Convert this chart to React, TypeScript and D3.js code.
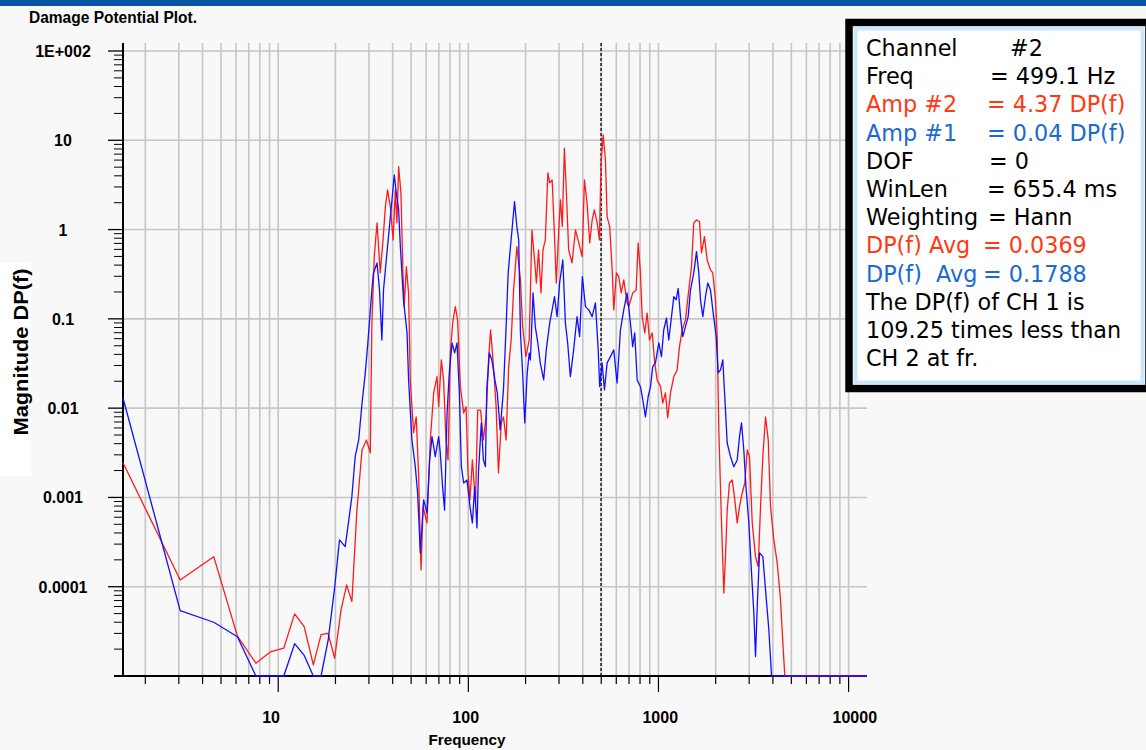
import React from 'react';
import * as d3 from 'd3';

// ---------- data ----------
const X_DOMAIN: [number, number] = [1.526, 12500];
const Y_DOMAIN: [number, number] = [1e-5, 100];

const xTickValues = [10, 100, 1000, 10000];
const xTickLabels = ['10', '100', '1000', '10000'];
const yTickValues = [100, 10, 1, 0.1, 0.01, 0.001, 0.0001];
const yTickLabels = ['1E+002', '10', '1', '0.1', '0.01', '0.001', '0.0001'];

const cursorFreq = 499.1;

// Channel 1 (blue)
const ch1Freq = [
  1.526, 3.05, 4.58, 6.1, 7.63, 9.16, 10.7, 12.2, 13.7, 15.3, 16.8, 18.3, 19.8, 21.0, 22.5, 23.4, 24.4, 25.4, 26.5, 27.6,
  28.7, 29.5, 30.2, 31.1, 31.7, 33.1, 34.1, 35.1, 35.8, 37.3, 38.9, 40.8, 41.8, 43.0, 43.9, 45.6, 47.6, 48.5, 50.5, 52.6,
  54.1, 55.9, 58.2, 60.6, 62.6, 64.4, 67.0, 69.8, 71.2, 73.2, 75.0, 77.3, 79.4, 82.1, 84.7, 87.2, 89.7, 91.9, 94.5, 98.4,
  102, 105, 108, 111, 113, 117, 120, 123, 125, 129, 133, 138, 142, 147, 153, 158, 162, 166, 171, 175,
  180, 184, 188, 193, 198, 204, 209, 212, 219, 225, 232, 239, 249, 257, 268, 276, 284, 293, 302, 314,
  324, 333, 344, 358, 373, 385, 398, 413, 430, 448, 466, 482, 491, 505, 520, 537, 559, 582, 606, 631,
  657, 684, 712, 732, 750, 773, 804, 827, 854, 883, 908, 933, 964, 1004, 1037, 1066, 1102, 1133, 1171, 1204,
  1239, 1270, 1306, 1343, 1387, 1433, 1474, 1534, 1585, 1630, 1664, 1711, 1768, 1818, 1878, 1931, 2012, 2062, 2120, 2180,
  2252, 2299, 2393, 2491, 2596, 2669, 2734, 2811, 2894, 2988, 3087, 3174, 3240, 3308, 3401, 3540, 3658, 3807, 3933, 12500,
];
const ch1Val = [
  0.013, 5.4e-5, 4.0e-5, 2.75e-5, 1e-5, 1e-5, 1e-5, 2.3e-5, 1.7e-5, 1e-5, 1e-5, 2.5e-5, 9.7e-5, 3.34e-4, 2.81e-4, 5.18e-4, 1.02e-3, 2.86e-3, 4.4e-3, 0.0114,
  0.0248, 0.0489, 0.0931, 0.211, 0.327, 0.423, 0.211, 0.058, 0.211, 0.547, 1.39, 4.09, 2.57, 1.66, 0.643, 0.163, 0.0695, 0.0207, 4.4e-3, 2.21e-3,
  1.12e-3, 2.39e-4, 9.4e-4, 6.7e-4, 2.63e-3, 4.8e-3, 2.86e-3, 4.8e-3, 3.15e-3, 1.32e-3, 7.2e-4, 8.8e-3, 0.0248, 0.0537, 0.0415, 0.0537, 0.0148, 2.21e-3, 1.45e-3, 1.57e-3,
  7.9e-4, 5.18e-4, 1.32e-3, 4.55e-4, 1.88e-3, 6.83e-3, 2.63e-3, 2.21e-3, 0.016, 0.0415, 0.0347, 0.0207, 0.0148, 5.7e-3, 0.016, 0.0818, 0.327, 0.591, 1.19, 2.05,
  1.08, 0.765, 0.0695, 0.0248, 6.83e-3, 0.0248, 0.0415, 0.0347, 0.195, 0.0818, 0.0537, 0.0321, 0.0207, 0.0449, 0.09, 0.126, 0.177, 0.106, 0.252, 0.457,
  0.09, 0.0537, 0.0225, 0.0449, 0.106, 0.0632, 0.297, 0.137, 0.126, 0.106, 0.151, 0.0449, 0.0174, 0.0321, 0.016, 0.0321, 0.0378, 0.0449, 0.0191, 0.0751,
  0.126, 0.195, 0.09, 0.0489, 0.0695, 0.0207, 0.0174, 0.0124, 8.0e-3, 0.0135, 0.0174, 0.0292, 0.0321, 0.0537, 0.0378, 0.0751, 0.102, 0.058, 0.106, 0.177,
  0.163, 0.22, 0.106, 0.0632, 0.0818, 0.106, 0.211, 0.327, 0.566, 0.327, 0.163, 0.106, 0.177, 0.252, 0.211, 0.126, 0.0632, 0.0248, 0.0268, 0.0347,
  9.5e-3, 4.07e-3, 2.86e-3, 2.21e-3, 2.63e-3, 4.8e-3, 6.83e-3, 3.4e-3, 1.21e-3, 5.18e-4, 1.43e-4, 5.1e-5, 1.65e-5, 6.0e-5, 2.39e-4, 2.17e-4, 9.2e-5, 3.3e-5, 1e-5, 1e-5,
];

// Channel 2 (red)
const ch2Freq = [
  1.526, 3.05, 4.58, 6.1, 7.63, 9.16, 10.7, 12.2, 13.7, 15.3, 16.8, 18.3, 19.8, 21.4, 22.9, 24.4, 25.9, 27.6, 29.1, 30.5,
  30.7, 31.1, 32.0, 33.1, 34.4, 35.6, 36.6, 37.6, 38.9, 40.2, 41.3, 42.1, 43.0, 44.2, 45.3, 46.0, 47.2, 48.5, 49.5, 51.5,
  53.2, 54.7, 56.4, 57.8, 60.6, 63.1, 65.7, 68.4, 69.8, 72.1, 74.1, 76.3, 78.2, 80.4, 82.7, 85.4, 87.8, 90.8, 94.5, 97.3,
  99.6, 102, 105, 109, 112, 116, 120, 124, 128, 131, 136, 140, 144, 149, 153, 158, 163, 168, 173, 180,
  188, 193, 201, 209, 216, 223, 228, 234, 241, 247, 254, 262, 268, 276, 284, 290, 299, 305, 312, 320,
  328, 337, 351, 366, 381, 397, 408, 421, 435, 448, 460, 476, 489, 499, 512, 526, 537, 554, 571, 582,
  601, 618, 637, 657, 684, 698, 732, 763, 782, 804, 821, 847, 872, 897, 927, 956, 984, 1025, 1053, 1088,
  1119, 1157, 1204, 1254, 1290, 1333, 1387, 1444, 1492, 1534, 1585, 1644, 1684, 1746, 1804, 1878, 1931, 1995, 2037, 2077,
  2146, 2207, 2252, 2299, 2364, 2443, 2521, 2596, 2669, 2757, 2846, 2930, 3013, 3113, 3240, 3347, 3443, 3540, 3658, 3780,
  3886, 4044, 4214, 4387, 4510, 4620, 12500,
];
const ch2Val = [
  2.45e-3, 1.19e-4, 2.17e-4, 2.8e-5, 1.39e-5, 1.88e-5, 2.05e-5, 4.96e-5, 3.57e-5, 1.33e-5, 2.9e-5, 3.0e-5, 1.58e-5, 5.5e-5, 1.05e-4, 6.8e-5, 6.9e-4, 3.4e-3, 4.4e-3, 3.15e-3,
  0.0104, 0.09, 0.497, 1.19, 0.327, 0.765, 1.8, 2.78, 1.8, 0.765, 2.78, 1.19, 5.06, 2.57, 0.327, 0.137, 0.384, 0.195, 0.0207, 5.3e-3,
  8.0e-3, 1.88e-3, 1.54e-4, 7.9e-4, 5.18e-4, 4.4e-3, 0.0148, 0.0225, 0.0104, 0.0347, 0.0207, 4.4e-3, 2.63e-3, 0.0415, 0.09, 0.137, 0.0973, 0.0174, 8.8e-3, 0.0104,
  1.88e-3, 9.4e-4, 2.63e-3, 8.6e-4, 9.5e-3, 9.5e-3, 4.4e-3, 8.0e-3, 0.0378, 0.0751, 0.0268, 0.0104, 1.88e-3, 6.83e-3, 8.0e-3, 4.4e-3, 0.0292, 0.058, 0.211, 0.643,
  0.273, 0.0818, 0.0378, 0.058, 0.99, 0.457, 0.252, 0.591, 0.195, 0.591, 0.765, 4.3, 3.33, 3.59, 0.833, 0.252, 0.99, 2.15, 1.08, 8.14,
  2.57, 0.591, 0.423, 0.99, 0.708, 0.497, 3.59, 1.99, 0.708, 1.28, 1.66, 1.19, 0.765, 5.57, 11.5, 6.02, 1.39, 1.08, 0.353, 0.126,
  0.327, 0.297, 0.195, 0.273, 0.151, 0.137, 0.195, 0.211, 0.708, 0.327, 0.106, 0.0695, 0.116, 0.058, 0.0695, 0.0321, 0.0207, 0.0174, 0.0114, 0.0148,
  7.8e-3, 0.0148, 0.0225, 0.0268, 0.0489, 0.0751, 0.0973, 0.211, 0.384, 1.19, 1.28, 1.23, 0.547, 0.833, 0.457, 0.353, 0.327, 0.163, 0.0632, 5.7e-3,
  5.18e-4, 8.5e-5, 2.17e-4, 7.2e-4, 1.45e-3, 1.57e-3, 9.4e-4, 5.18e-4, 7.9e-4, 1.12e-3, 1.45e-3, 3.4e-3, 2.86e-3, 5.18e-4, 2.17e-4, 1.68e-4, 7.9e-4, 2.86e-3, 8.0e-3, 4.4e-3,
  7.9e-4, 3.34e-4, 1.85e-4, 7.1e-5, 2.35e-5, 1e-5, 1e-5,
];

const legendLabels = ['Channel', 'Freq', 'Amp #2', 'Amp #1', 'DOF', 'WinLen', 'Weighting', 'DP(f) Avg', 'DP(f)  Avg', 'The DP(f) of CH 1 is', '109.25 times less than', 'CH 2 at fr.'];
const legendValues = ['#2', '= 499.1 Hz', '= 4.37 DP(f)', '= 0.04 DP(f)', '= 0', '= 655.4 ms', '= Hann', '= 0.0369', '= 0.1788', '', '', ''];
const legendSeries = ['', '', 'ch2', 'ch1', '', '', '', 'ch2', 'ch1', '', '', ''];

// ---------- layout / style ----------
const W = 1146;
const H = 750;
const PL = 123, PR = 867, PT = 51, PB = 676;
const RED = '#ff1a1a';
const BLUE = '#1010ff';
const TXT_RED = '#ff3a12';
const TXT_BLUE = '#1a6ad2';
const GRID = '#c6c6c6';
const legendValueX = [1010, 990, 987, 987, 989, 987, 988, 983, 983, 0, 0, 0];

export default function App() {
  const x = d3.scaleLog().domain(X_DOMAIN).range([PL, PR]);
  const y = d3.scaleLog().domain(Y_DOMAIN).range([PB, PT]).clamp(true);

  const xGrid: number[] = [];
  for (let e = 0; e <= 4; e++) {
    for (let m = 1; m <= 9; m++) {
      const v = m * Math.pow(10, e);
      if (v > X_DOMAIN[0] && v <= X_DOMAIN[1]) xGrid.push(v);
    }
  }
  const yMinor: number[] = [];
  for (let e = -5; e <= 1; e++) {
    for (let m = 2; m <= 9; m++) yMinor.push(m * Math.pow(10, e));
  }

  const line = d3
    .line<[number, number]>()
    .x((d) => x(d[0]))
    .y((d) => y(d[1]));

  const ch1 = ch1Freq.map((f, i) => [f, ch1Val[i]] as [number, number]);
  const ch2 = ch2Freq.map((f, i) => [f, ch2Val[i]] as [number, number]);

  const isMajorX = (v: number) => Math.abs(Math.log10(v) - Math.round(Math.log10(v))) < 1e-9;

  return (
    <svg width={W} height={H} style={{ position: 'fixed', left: 0, top: 0, display: 'block' }}>
      <rect x={0} y={0} width={W} height={H} fill="#f8f8f8" />
      <rect x={0} y={0} width={W} height={6} fill="#0b55a6" />

      <text x={29} y={23} fontFamily="Liberation Sans, Arial, sans-serif" fontWeight="bold" fontSize={16} textLength={168} lengthAdjust="spacingAndGlyphs" fill="#000">
        Damage Potential Plot.
      </text>

      {/* grid */}
      {xGrid.map((v) => (
        <line key={'gx' + v} x1={x(v)} x2={x(v)} y1={43} y2={PB} stroke={GRID} strokeWidth={1.6} />
      ))}
      {yTickValues.map((v) => (
        <line key={'gy' + v} x1={PL} x2={PR} y1={y(v)} y2={y(v)} stroke={GRID} strokeWidth={1.6} />
      ))}

      {/* y ticks */}
      {yMinor.map((v) => (
        <line key={'ym' + v} x1={114} x2={122} y1={y(v)} y2={y(v)} stroke="#000" strokeWidth={1} />
      ))}
      {yTickValues.map((v) => (
        <line key={'yM' + v} x1={108} x2={123} y1={y(v)} y2={y(v)} stroke="#000" strokeWidth={1.3} />
      ))}
      {yTickValues.map((v, i) => (
        <text key={'yl' + v} x={63} y={y(v) + 6} textAnchor="middle" fontFamily="Liberation Sans, Arial, sans-serif" fontWeight="bold" fontSize={16} fill="#000">
          {yTickLabels[i]}
        </text>
      ))}

      {/* x ticks */}
      {xGrid.map((v) => (
        <line key={'xt' + v} x1={x(v)} x2={x(v)} y1={PB} y2={PB + (isMajorX(v) ? 16 : 8)} stroke="#000" strokeWidth={1.2} />
      ))}
      {xTickValues.map((v, i) => (
        <text key={'xl' + v} x={x(v) - 16} y={723} textAnchor="start" fontFamily="Liberation Sans, Arial, sans-serif" fontWeight="bold" fontSize={16} fill="#000">
          {xTickLabels[i]}
        </text>
      ))}
      <text x={467} y={745} textAnchor="middle" fontFamily="Liberation Sans, Arial, sans-serif" fontWeight="bold" fontSize={15} textLength={77} lengthAdjust="spacingAndGlyphs" fill="#000">
        Frequency
      </text>

      {/* y label */}
      <rect x={0} y={262} width={31} height={214} fill="#ffffff" />
      <text transform="translate(28,352) rotate(-90)" textAnchor="middle" fontFamily="Liberation Sans, Arial, sans-serif" fontWeight="bold" fontSize={21} textLength={167} lengthAdjust="spacingAndGlyphs" fill="#000">
        Magnitude DP(f)
      </text>

      {/* cursor */}
      <line x1={x(cursorFreq)} x2={x(cursorFreq)} y1={43} y2={PB} stroke="#000" strokeWidth={1.3} strokeDasharray="3 2" />

      {/* axes */}
      <line x1={PL} x2={PL} y1={43} y2={PB + 1} stroke="#000" strokeWidth={2} />
      <line x1={114} x2={PR} y1={PB} y2={PB} stroke="#000" strokeWidth={2} />

      {/* data (drawn over the axes, as in the reference) */}
      <path d={line(ch2) || ''} fill="none" stroke={RED} strokeWidth={1.3} strokeLinejoin="round" />
      <path d={line(ch1) || ''} fill="none" stroke={BLUE} strokeWidth={1.3} strokeLinejoin="round" />

      {/* legend */}
      <rect x={849} y={22.5} width={300} height={366} fill="#ffffff" stroke="#000" strokeWidth={7.5} />
      <rect x={855.5} y={28.5} width={287} height={354} fill="none" stroke="#cbe7fa" strokeWidth={4} />
      {legendLabels.map((lab, i) => {
        const color = legendSeries[i] === 'ch2' ? TXT_RED : legendSeries[i] === 'ch1' ? TXT_BLUE : '#000';
        const by = 56 + i * 28.2;
        return (
          <text key={'lg' + i} y={by} fontFamily="DejaVu Sans, Verdana, sans-serif" fontSize={22.3} fill={color} style={{ whiteSpace: 'pre' }}>
            <tspan x={866}>{lab}</tspan>
            {legendValues[i] ? <tspan x={legendValueX[i]}>{legendValues[i]}</tspan> : null}
          </text>
        );
      })}
    </svg>
  );
}
